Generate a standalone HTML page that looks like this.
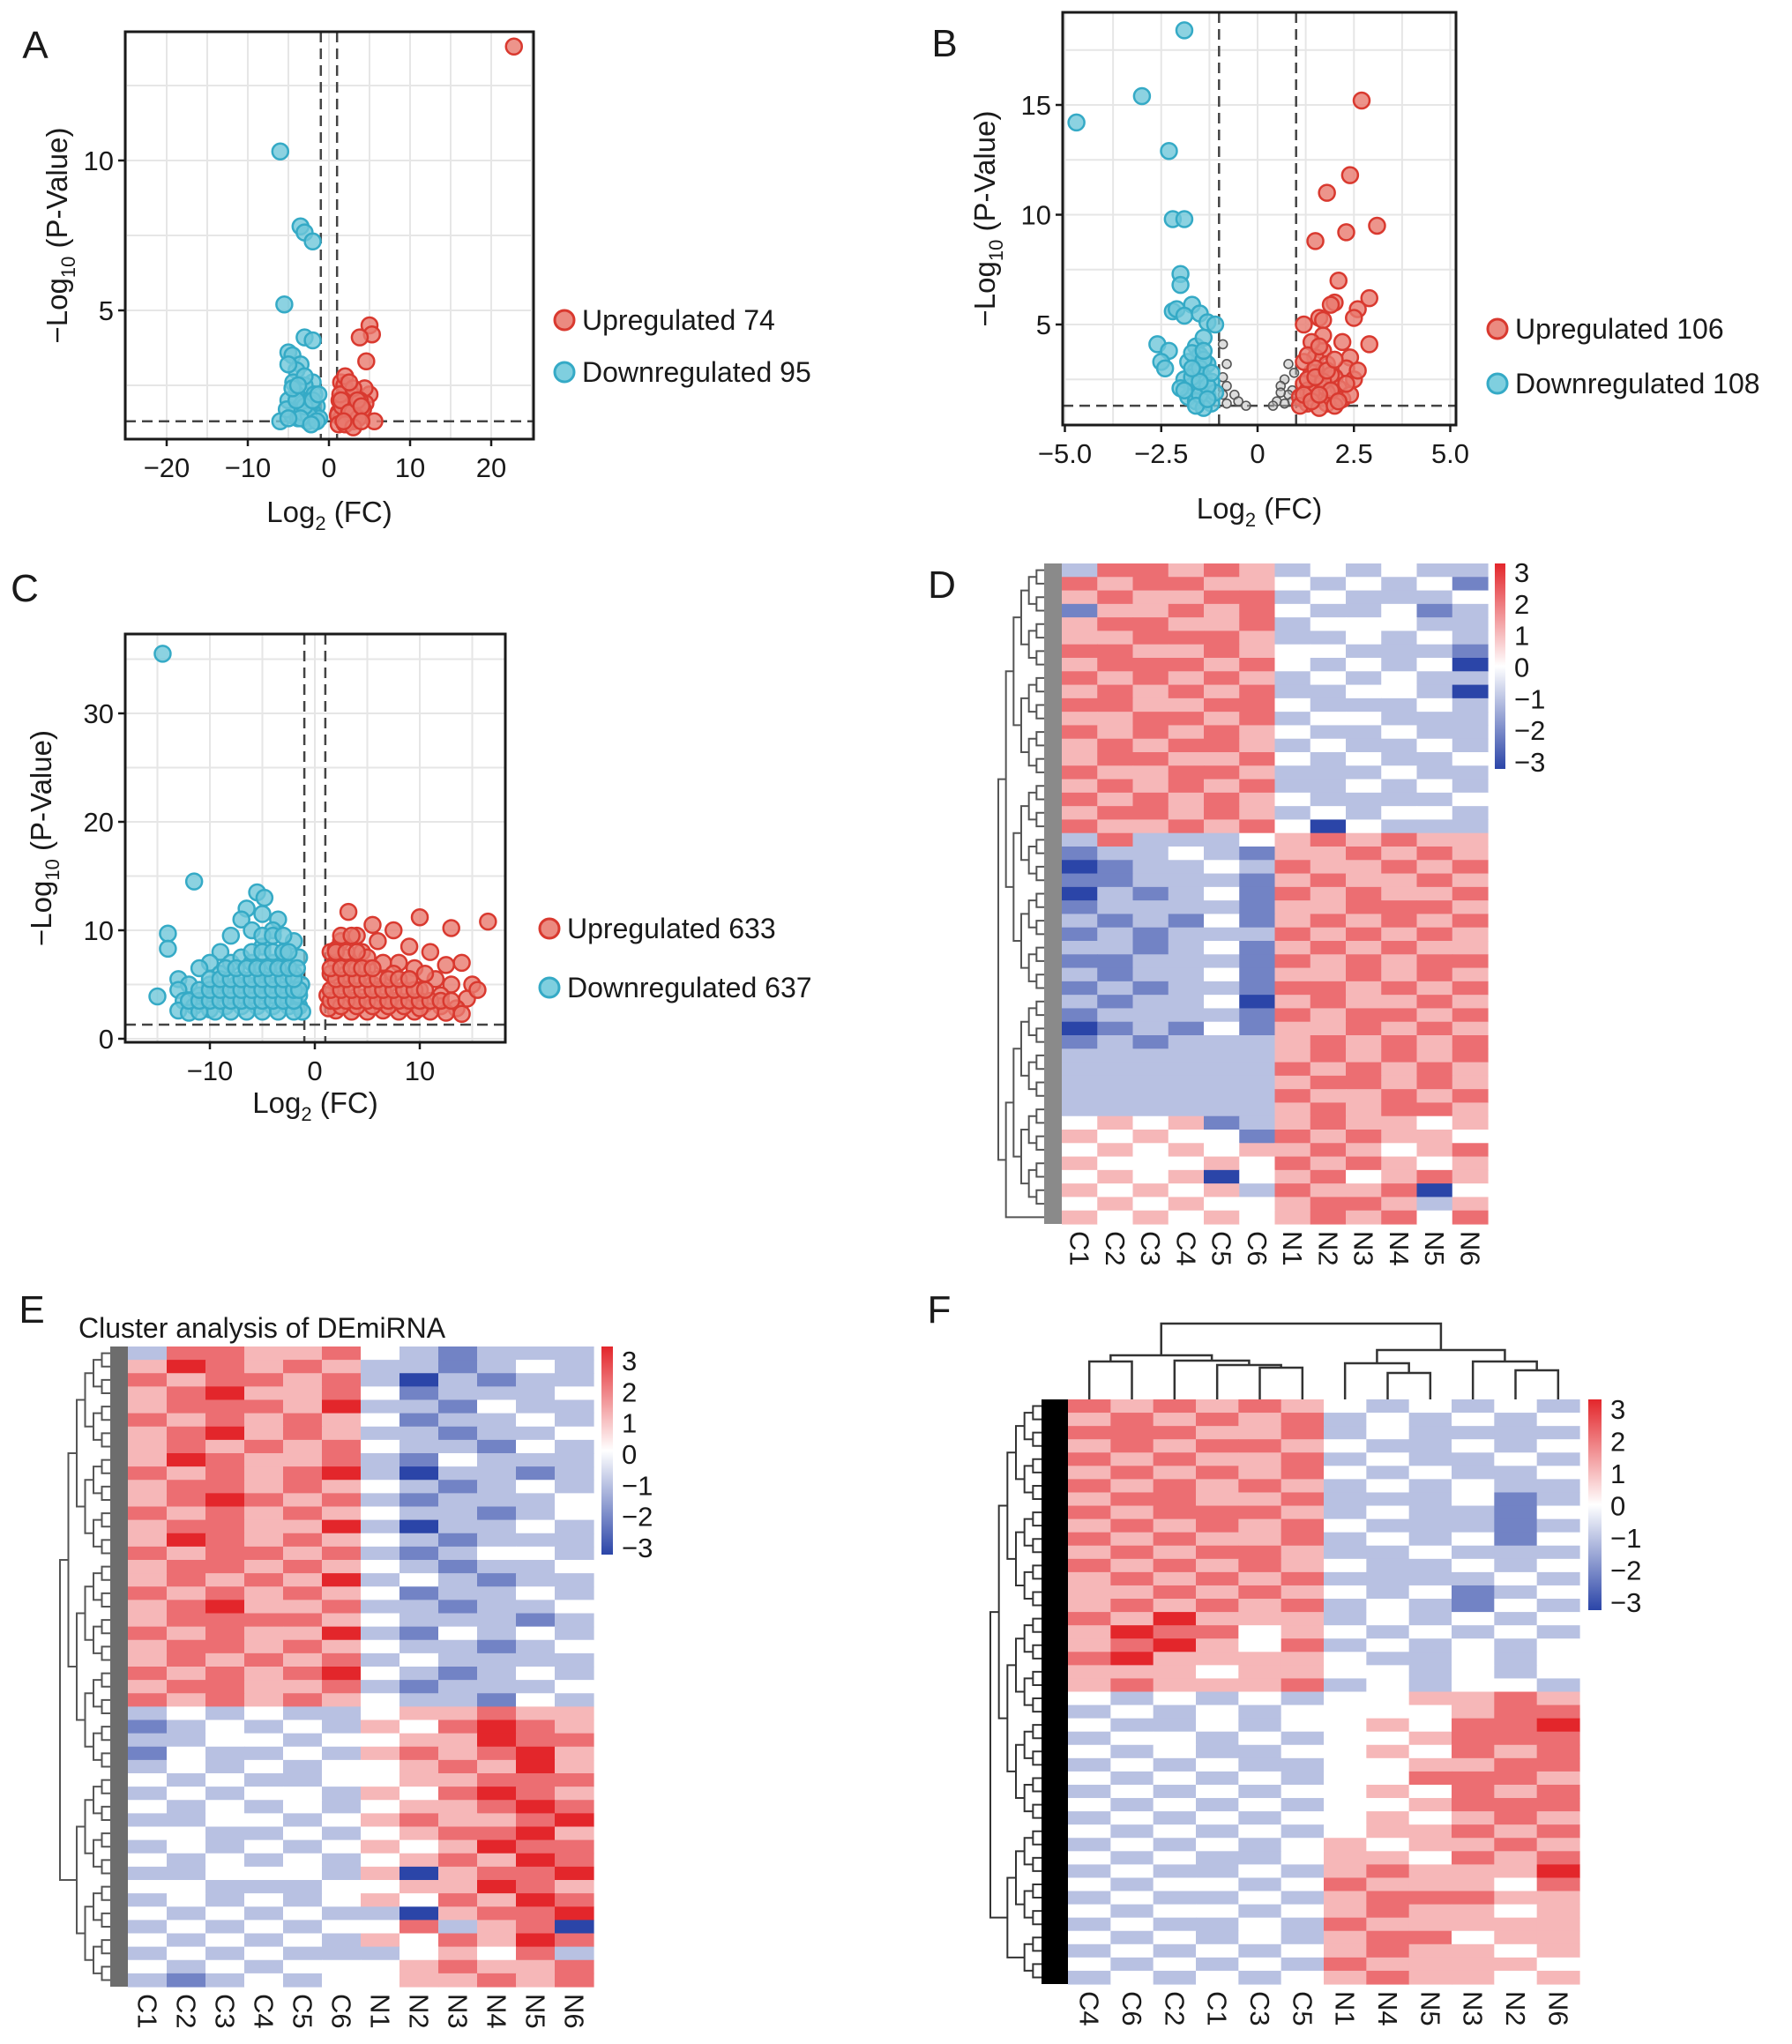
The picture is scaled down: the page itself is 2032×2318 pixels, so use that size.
<!DOCTYPE html>
<html><head><meta charset="utf-8"><style>
html,body{margin:0;padding:0;background:#fff;}
svg{display:block;font-family:"Liberation Sans",Arial,sans-serif;}
</style></head><body>
<svg id="fig" width="2032" height="2318" viewBox="0 0 2032 2318" xmlns="http://www.w3.org/2000/svg">
<defs>
<linearGradient id="cbar" x1="0" y1="1" x2="0" y2="0">
<stop offset="0" stop-color="#2b45a8"/><stop offset="0.5" stop-color="#ffffff"/><stop offset="1" stop-color="#e3262b"/>
</linearGradient>
</defs>
</svg>
<script>
// ---------- Panel A data ----------
const aUpX=[22.8,5,5.3,3.8,4.6,5,4.5,1.5,2,2.5,3,1.2,2,3.5,4,1.5,2.5,3,5.6,4.4,1.3,2.2,1.8,3.3,2.8,1.1,3.8,4.2,2.4,1.6,2.9,3.6,1.9,1.4,1.5,2,2.5,3,3.5,4,1.2,2,3,4,2.5,1.8];
const aUpY=[13.8,4.5,4.2,4.1,3.3,2.2,1.9,2.6,2.3,2.0,1.8,1.6,1.5,1.6,1.5,1.4,1.4,1.3,1.3,2.4,2.0,1.7,1.9,1.5,2.2,1.5,2.0,1.7,1.3,1.8,1.6,1.4,2.5,2.2,2,2.8,1.6,2.4,2,1.8,1.2,1.2,1.1,1.3,2.6,1.3];
const aDnX=[-6,-3.5,-3,-2,-5.5,-3,-2,-5,-4.5,-3.5,-4,-5,-2,-3,-4,-5,-2.5,-3.5,-6,-4.5,-3,-2,-1.5,-2,-4,-3.2,-1.2,-5.2,-2.6,-3.8,-1.8,-4.4,-2.2,-3.3,-2.5,-3,-3.5,-4,-2,-1.5,-4.5,-3,-3.8,-2.2,-5,-1.3];
const aDnY=[10.3,7.8,7.6,7.3,5.2,4.1,4.0,3.6,3.5,3.2,3.0,3.2,2.6,2.5,2.2,2.0,2.0,1.8,1.3,1.5,1.4,1.4,1.8,1.6,1.6,1.9,1.4,1.7,1.3,1.4,2.2,2.6,1.9,1.6,1.5,1.8,1.4,2,2,1.3,2.4,2.8,2.5,1.2,1.4,2.2];
const aXTicks=[-20,-10,0,10,20];
const aYTicks=[5,10];
// ---------- Panel B data ----------
const bUpX=[2.7,2.4,1.8,3.1,2.3,1.5,2.1,2.9,2,1.9,2.6,2.5,1.6,1.7,1.2,2.9,2.2,1.7,1.5,2.4,1.8,2.3,1.4,2,2.5,1.2,1.6,2.1,1.3,1.8,1.1,1.5,2.2,1.3,1.8,2.4,1.6,1.1,2,1.4,1.9,2.6,1.2,1.7,1.4,1.3,1.5,1.7,1.9,2.1,1.2,1.4,1.6,2.3,1.5,1.8,2.0,1.3,1.6];
const bUpY=[15.2,11.8,11,9.5,9.2,8.8,7,6.2,6,5.9,5.7,5.3,5.3,5.2,5,4.1,4.2,3.8,3.5,3.5,3.2,3,2.8,2.6,2.5,2.3,2.2,2.1,2,1.9,1.7,1.6,1.6,1.4,1.4,1.8,1.2,1.3,1.3,1.9,2.7,2.9,3.3,4.5,4.2,2.5,3,2.4,2,1.5,1.8,1.5,1.8,2.3,2.6,2.9,3.4,3.6,4.0];
const bDnX=[-1.9,-3,-4.7,-2.3,-2.2,-1.9,-2,-2,-1.7,-2.2,-2.1,-1.9,-1.5,-1.3,-1.1,-2.6,-2.3,-2.5,-2.4,-1.6,-1.5,-1.8,-1.3,-1.6,-1.4,-1.9,-1.2,-1.7,-1.5,-1.3,-1.8,-1.6,-1.2,-1.4,-2,-1.1,-1.7,-1.4,-1.5,-1.3,-1.7,-1.5,-1.4,-1.2,-1.6,-1.9,-1.3,-1.5,-1.7,-1.4];
const bDnY=[18.4,15.4,14.2,12.9,9.8,9.8,7.3,6.8,5.9,5.6,5.7,5.4,5.5,5.1,5,4.1,3.8,3.3,3,4,3.6,3.3,3.2,2.9,2.6,2.5,2.4,2.2,2,1.8,1.7,1.5,1.4,1.2,2.1,1.9,3.7,4.4,1.8,2.2,2.6,3.0,3.4,2.8,1.3,2.0,1.6,2.4,3.0,3.8];
const bNsX=[-0.9,-0.8,-0.9,-0.8,-0.6,-0.5,-0.8,-0.3,-0.9,0.8,0.7,0.6,0.9,0.8,0.5,0.9,0.4,0.7,0.95,0.6];
const bNsY=[4.1,3.2,2.6,2.2,1.8,1.5,1.4,1.3,1.8,3.2,2.5,2.2,2,1.8,1.5,1.5,1.3,1.4,2.8,1.9];
const bXTicks=[-5,-2.5,0,2.5,5];
const bXTickLabels=["−5.0","−2.5","0","2.5","5.0"];
const bYTicks=[5,10,15];
// ---------- Panel C data ----------
const cUpX=[16.5,3.2,10,7.5,5.5,13,14,12.5,15,14.5,11,9,6,4,2.5,1.5,2,3,4.5,5,6.5,8,9.5,11.5,13,12,10,8.5,7,5.5,4,3,2,1.5,1.2,2.5,3.5,4.5,6,7.5,9,10.5,12,13.5,11,9.5,8,6.5,5,3.5,2,1.3,1.5,2.5,4,5.5,7,8.5,10,12.5,14,15.5,3,4,2,6,7.5,9,10.5,5,
 2,3,4,5,6,7,8,9,10,11,12,13, 1.5,2.5,3.5,4.5,5.5,6.5,7.5,8.5,9.5,10.5, 2,3,4,5,6,7,8,9, 1.5,2.5,3.5,4.5,5.5, 2,3,4, 2.5,3.5];
const cUpY=[10.8,11.7,11.2,10,10.5,10.2,7,6.8,5,3.7,8,8.5,9,9.5,9,8,7,7.5,8,6.5,7,7,6.5,5.5,5,4,4.5,4.5,5,5,5.5,5,5,6,4,4,3.5,3.8,3.5,3.5,3.3,3.2,3,2.8,2.5,2.5,2.5,2.6,2.5,2.5,2.6,2.8,3.5,3,3,3,3,3,2.8,2.4,2.3,4.5,6,6.5,8.2,4.5,6,5.5,6,7.5,
 3.5,3.5,3.5,3.5,3.5,3.5,3.5,3.5,3.5,3.5,3.5,3.5, 4.5,4.5,4.5,4.5,4.5,4.5,4.5,4.5,4.5,4.5, 5.5,5.5,5.5,5.5,5.5,5.5,5.5,5.5, 6.5,6.5,6.5,6.5,6.5, 8,8,8, 9.5,9.5];
const cDnX=[-14.5,-11.5,-14,-14,-13,-15,-5.5,-4.8,-6.5,-5,-7,-3.5,-8,-6,-4,-2,-1.5,-3,-5,-9,-10,-11,-12,-13,-12.5,-11,-10,-9,-8,-7,-6,-5,-4,-3,-2,-1.3,-2.5,-3.5,-4.5,-5.5,-6.5,-7.5,-8.5,-9.5,-10.5,-11.5,-13,-12,-10,-8.5,-7,-5.5,-4,-2.5,-1.5,-1.2,-2,-3.5,-5,-6.5,-8,-9.5,-11,-3,-4,-6,-7,-8,-2,-1.5,
 -12,-11,-10,-9,-8,-7,-6,-5,-4,-3,-2, -11,-10,-9,-8,-7,-6,-5,-4,-3,-2,-1.5, -10,-9,-8,-7,-6,-5,-4,-3,-2, -8.5,-7.5,-6.5,-5.5,-4.5,-3.5,-2.5,-1.7, -6,-5,-4,-3,-2.5, -5,-4,-3];
const cDnY=[35.5,14.5,9.7,8.3,5.5,3.9,13.5,13,12,11.5,11,11,9.5,10,10,9,7.5,8,8.5,8,7,6.5,5,4.5,3.5,4,5,6,7,7.5,7,6.5,7,6.5,6,5,4.5,5,5,5,5,5,4.5,4,3.5,3,2.6,2.4,2.7,3,3,3,3,3,3,2.5,2.5,2.5,2.5,2.5,2.5,2.5,2.5,4,4,4,4,4,4,4,
 3.5,3.5,3.5,3.5,3.5,3.5,3.5,3.5,3.5,3.5,3.5, 4.5,4.5,4.5,4.5,4.5,4.5,4.5,4.5,4.5,4.5,4.5, 5.5,5.5,5.5,5.5,5.5,5.5,5.5,5.5,5.5, 6.5,6.5,6.5,6.5,6.5,6.5,6.5,6.5, 8,8,8,8,8, 9.5,9.5,9.5];
const cXTicks=[-10,0,10];
const cYTicks=[0,10,20,30];
// ---------- Heatmap D data (digit = value + 3) ----------
const dCols=["C1","C2","C3","C4","C5","C6","N1","N2","N3","N4","N5","N6"];
const dRows=["255454232322","545544323231","454455232223","144545322312","455445233322","445554223232","554454332221","455545323230","545454232322","454545223320","554455322232","445545233222","545454322322","454554232232","455445323223","544554222322","454545223232","545454322223","455454232332","544545303222",
"252223454544","122321445454","012232544545","112221454454","021231545445","122221445554","212131454545","121222545454","221231454544","112221545455","212231445454","121221554545","212230454454","122221545545","012131445454","121222454545",
"222222454545","222222545454","222222455454","222222544545","222222454554",
"343412454434","434331545443","343434454345","433343545434","343403453454","434342544503","343433455424","434343454535"];
// ---------- Heatmap E data ----------
const eCols=["C1","C2","C3","C4","C5","C6","N1","N2","N3","N4","N5","N6"];
const eRows=["255445321222","465454221232","545545202122","456445312223","455546221322","545454312232","456454221223","454545322132","465445213222","545456202212","455454321232","456545212223","545454322123","455446202232","465454321222","545545212332","455454321223","454546232122","545454312232","456445221223","455554322212","545446213232","455454322123","454545232222","545456321232","455445212223","545454322132",
"232322344544","123232435654","223323344655","132232454564","232323345464","323223344555","232332435654","323232344565","223323454456","332232345564","232323434655","323232345465","223332404556","332223344654","232323435465","323232204556","232323352450","323232435465","232322234352","323233345445","212323344545"];
// ---------- Heatmap F data ----------
const fCols=["C4","C6","C2","C1","C3","C5","N1","N4","N5","N3","N2","N6"];
const fRows=["545454323232","454545232323","555445232222","454554322323","545445232232","454545323223","545454232322","455445222312","545554232213","454545322212","545445232313","454554223222","545454322323","454545222232","445454323123","454545232132","546444232323","465534323232","456435232323","564444322323","444344332323","454445232332",
"323232334454","232323333455","322323343556","233232334555","323223343545","232322334455","323232335554","232323343545","323232334555","232323343454","323232344545","232323434454","323223443545","232232454446","323323544435","232232455544","323323454434","232232544444","323232455344","232323454434","323232544443","232323454434"];
const cbarLabels=["3","2","1","0","−1","−2","−3"];

const NS='http://www.w3.org/2000/svg';
const svg=document.getElementById('fig');
function mk(tag,attrs,parent){const e=document.createElementNS(NS,tag);for(const k in attrs)e.setAttribute(k,attrs[k]);(parent||svg).appendChild(e);return e;}
function txt(parent,x,y,s,size,anchor){const t=mk('text',{x:x,y:y,'font-size':size,'text-anchor':anchor||'start',fill:'#1a1a1a'},parent);t.textContent=s;return t;}

function panelLetter(x,y,s){
  const t=txt(svg,x,y,s,44,'middle');
  
  
}

function volcano(id,L,up,dn,ns,xt,xtl,yt,legendText){
  const g=mk('g',{});
  
  
  const sx=v=>L.x0+v*L.kx, sy=v=>L.y0-v*L.ky;
  const grid=mk('g',{stroke:'#e6e6e6','stroke-width':2},g);
  
  
  for(let v=L.gx0;v<=L.gx1+1e-9;v+=L.gxs){const p=sx(v);if(p>L.left&&p<L.right)mk('line',{x1:p,x2:p,y1:L.top,y2:L.bottom},grid);}
  for(let v=L.gy0;v<=L.gy1+1e-9;v+=L.gys){const p=sy(v);if(p>L.top&&p<L.bottom)mk('line',{x1:L.left,x2:L.right,y1:p,y2:p},grid);}
  const th=mk('g',{stroke:'#444','stroke-width':2.5,'stroke-dasharray':'12,7',fill:'none'},g);
  
  
  mk('line',{x1:sx(-1),x2:sx(-1),y1:L.top,y2:L.bottom},th);
  mk('line',{x1:sx(1),x2:sx(1),y1:L.top,y2:L.bottom},th);
  mk('line',{x1:L.left,x2:L.right,y1:sy(1.3),y2:sy(1.3)},th);
  if(ns){for(let i=0;i<ns[0].length;i++){const c=mk('circle',{cx:sx(ns[0][i]),cy:sy(ns[1][i]),r:5,fill:'#bbb','fill-opacity':0.5,stroke:'#555','stroke-width':1.6},g);
    
    }}
  for(let i=0;i<dn[0].length;i++){const c=mk('circle',{cx:sx(dn[0][i]),cy:sy(dn[1][i]),r:L.r,fill:'#6fc7da','fill-opacity':0.8,stroke:'#35aac6','stroke-width':2.5},g);
    
    }
  for(let i=0;i<up[0].length;i++){const c=mk('circle',{cx:sx(up[0][i]),cy:sy(up[1][i]),r:L.r,fill:'#e8796e','fill-opacity':0.8,stroke:'#d9392f','stroke-width':2.5},g);
    
    }
  const fr=mk('rect',{x:L.left,y:L.top,width:L.right-L.left,height:L.bottom-L.top,fill:'none',stroke:'#1a1a1a','stroke-width':3},g);
  
  
  const xa=mk('g',{},g);
  
  
  xt.forEach((v,i)=>{const p=sx(v);mk('line',{x1:p,x2:p,y1:L.bottom,y2:L.bottom+8,stroke:'#1a1a1a','stroke-width':2.5},xa);
    const t=txt(xa,p,L.bottom+43,xtl?xtl[i]:String(v).replace('-','−'),31,'middle');
    
    });
  const ya=mk('g',{},g);
  
  
  yt.forEach(v=>{const p=sy(v);mk('line',{x1:L.left-8,x2:L.left,y1:p,y2:p,stroke:'#1a1a1a','stroke-width':2.5},ya);
    const t=txt(ya,L.left-13,p+11,String(v),31,'end');
    
    });
  const xtit=mk('text',{x:(L.left+L.right)/2,y:L.xTitleY,'font-size':33,'text-anchor':'middle',fill:'#1a1a1a'},g);
  
  
  xtit.innerHTML='Log<tspan font-size="22" dy="9">2</tspan><tspan dy="-9"> (FC)</tspan>';
  const ytit=mk('text',{x:0,y:0,'font-size':33,'text-anchor':'middle',fill:'#1a1a1a',transform:`translate(${L.yTitleX},${(L.top+L.bottom)/2}) rotate(-90)`},g);
  
  
  ytit.innerHTML='−Log<tspan font-size="22" dy="9">10</tspan><tspan dy="-9"> (P-Value)</tspan>';
  const lg=mk('g',{},g);
  
  
  [[legendText[0],'#eb8a80','#d9392f'],[legendText[1],'#7fcfdf','#35aac6']].forEach((d,i)=>{
    const y=L.legY[i];
    const c=mk('circle',{cx:L.legX,cy:y,r:11,fill:d[1],stroke:d[2],'stroke-width':3},lg);
    
    
    const t=txt(lg,L.legX+20,y+11,d[0],32,'start');
    
    
  });
}

volcano('a',{left:142,right:605,top:36,bottom:498,x0:373,kx:9.2,y0:522,ky:34,r:9,gx0:-25,gx1:25,gxs:5,gy0:0,gy1:15,gys:2.5,xTitleY:592,yTitleX:76,legX:640,legY:[363,422]},
  [aUpX,aUpY],[aDnX,aDnY],null,aXTicks,null,aYTicks,['Upregulated 74','Downregulated 95']);
volcano('b',{left:1205,right:1651,top:14,bottom:482,x0:1426,kx:43.7,y0:492.5,ky:24.9,r:9,gx0:-5,gx1:5,gxs:1.25,gy0:0,gy1:20,gys:2.5,xTitleY:588,yTitleX:1128,legX:1698,legY:[373,435]},
  [bUpX,bUpY],[bDnX,bDnY],[bNsX,bNsY],bXTicks,bXTickLabels,bYTicks,['Upregulated 106','Downregulated 108']);
volcano('c',{left:142,right:573,top:719,bottom:1182,x0:357,kx:11.9,y0:1178,ky:12.3,r:9,gx0:-20,gx1:20,gxs:5,gy0:0,gy1:40,gys:5,xTitleY:1262,yTitleX:58,legX:623,legY:[1053,1120]},
  [cUpX,cUpY],[cDnX,cDnY],null,cXTicks,null,cYTicks,['Upregulated 633','Downregulated 637']);

function colorOf(v){
  const t=Math.max(-3,Math.min(3,v))/3;
  let a=[255,255,255],b;
  if(t<0){b=[43,69,168];}else{b=[227,38,43];}
  const k=Math.abs(t);
  return `rgb(${Math.round(a[0]+(b[0]-a[0])*k)},${Math.round(a[1]+(b[1]-a[1])*k)},${Math.round(a[2]+(b[2]-a[2])*k)})`;
}

function rowTree(g,x0,x1,y0,y1,n,col,w){
  const rh=(y1-y0)/n;
  let nodes=[];for(let i=0;i<n;i++)nodes.push({y:y0+rh*(i+0.5),x:x1});
  let lvl=0,levels=Math.ceil(Math.log2(n));
  while(nodes.length>1){
    lvl++;
    const nx=x1-(x1-x0)*lvl/levels;
    const nn=[];
    for(let i=0;i<nodes.length;i+=2){
      if(i+1<nodes.length){const a=nodes[i],b=nodes[i+1];
        mk('path',{d:`M${a.x},${a.y}H${nx}V${b.y}H${b.x}`,fill:'none',stroke:col,'stroke-width':w},g);
        nn.push({x:nx,y:(a.y+b.y)/2});}
      else nn.push(nodes[i]);
    }
    nodes=nn;
  }
}

function heatmap(id,L,rows,cols){
  const g=mk('g',{});
  
  
  const cw=(L.right-L.left)/cols.length, rh=(L.bottom-L.top)/rows.length;
  rows.forEach((r,i)=>{for(let j=0;j<cols.length;j++){
    const c=mk('rect',{x:L.left+j*cw,y:L.top+i*rh,width:cw+0.6,height:rh+0.6,fill:colorOf(parseInt(r[j])-3)},g);
    
    }});
  const dg=mk('g',{},g);
  
  
  mk('rect',{x:L.left-L.leafW,y:L.top,width:L.leafW,height:L.bottom-L.top,fill:L.leafCol},dg);
  rowTree(dg,L.dendL,L.left-L.leafW,L.top,L.bottom,rows.length,L.treeCol,2);
  cols.forEach((c,j)=>{const x=L.left+(j+0.5)*cw;
    const t=mk('text',{x:0,y:0,'font-size':31,'dominant-baseline':'central',fill:'#1a1a1a',transform:`translate(${x},${L.bottom+8}) rotate(90)`},g);
    t.textContent=c;
    
    });
  const cb=mk('g',{},g);
  
  
  const bar=mk('rect',{x:L.cbX,y:L.top,width:L.cbW,height:L.cbH,fill:'url(#cbar)'},cb);
  
  
  cbarLabels.forEach((s,i)=>{const y=L.cbL0+(L.cbL1-L.cbL0)*i/6;
    const t=txt(cb,L.cbX+L.cbW+10,y+11,s,31,'start');
    
    });
  return g;
}

heatmap('d',{left:1204,right:1687,top:639,bottom:1388,leafW:20,leafCol:'#8a8a8a',treeCol:'#555',dendL:1132,cbX:1695,cbW:12,cbH:233,cbL0:649,cbL1:864},dRows,dCols);
const eg=heatmap('e',{left:145,right:673,top:1527,bottom:2253,leafW:20,leafCol:'#6d6d6d',treeCol:'#555',dendL:68,cbX:682,cbW:13,cbH:236,cbL0:1543,cbL1:1755},eRows,eCols);
const et=txt(eg,89,1517,'Cluster analysis of DEmiRNA',32,'start');


const fg=heatmap('f',{left:1211,right:1791,top:1587,bottom:2250,leafW:30,leafCol:'#000',treeCol:'#333',dendL:1123,cbX:1801,cbW:15,cbH:239,cbL0:1598,cbL1:1817},fRows,fCols);
(function(){
  const cd=mk('g',{fill:'none',stroke:'#333','stroke-width':2.5},fg);
  
  
  const cw=(1791-1211)/12, X=j=>1211+(j+0.5)*cw, B=1587;
  function join(a,b,y){mk('path',{d:`M${a.x},${a.y}V${y}H${b.x}V${b.y}`},cd);return {x:(a.x+b.x)/2,y:y};}
  const leaf=j=>({x:X(j),y:B});
  const c46=join(leaf(0),leaf(1),1544);
  const c35=join(leaf(4),leaf(5),1551);
  const c1=join(leaf(3),c35,1548);
  const c2=join(leaf(2),c1,1543);
  const L=join(c46,c2,1537);
  const n45=join(leaf(7),leaf(8),1557);
  const n1=join(leaf(6),n45,1546);
  const n26=join(leaf(10),leaf(11),1554);
  const n3=join(leaf(9),n26,1544);
  const R=join(n1,n3,1531);
  join(L,R,1501);
})();

panelLetter(40,66,'A');
panelLetter(1071,64,'B');
panelLetter(28,682,'C');
panelLetter(1068,678,'D');
panelLetter(36,1500,'E');
panelLetter(1065,1500,'F');
</script>
</body></html>
